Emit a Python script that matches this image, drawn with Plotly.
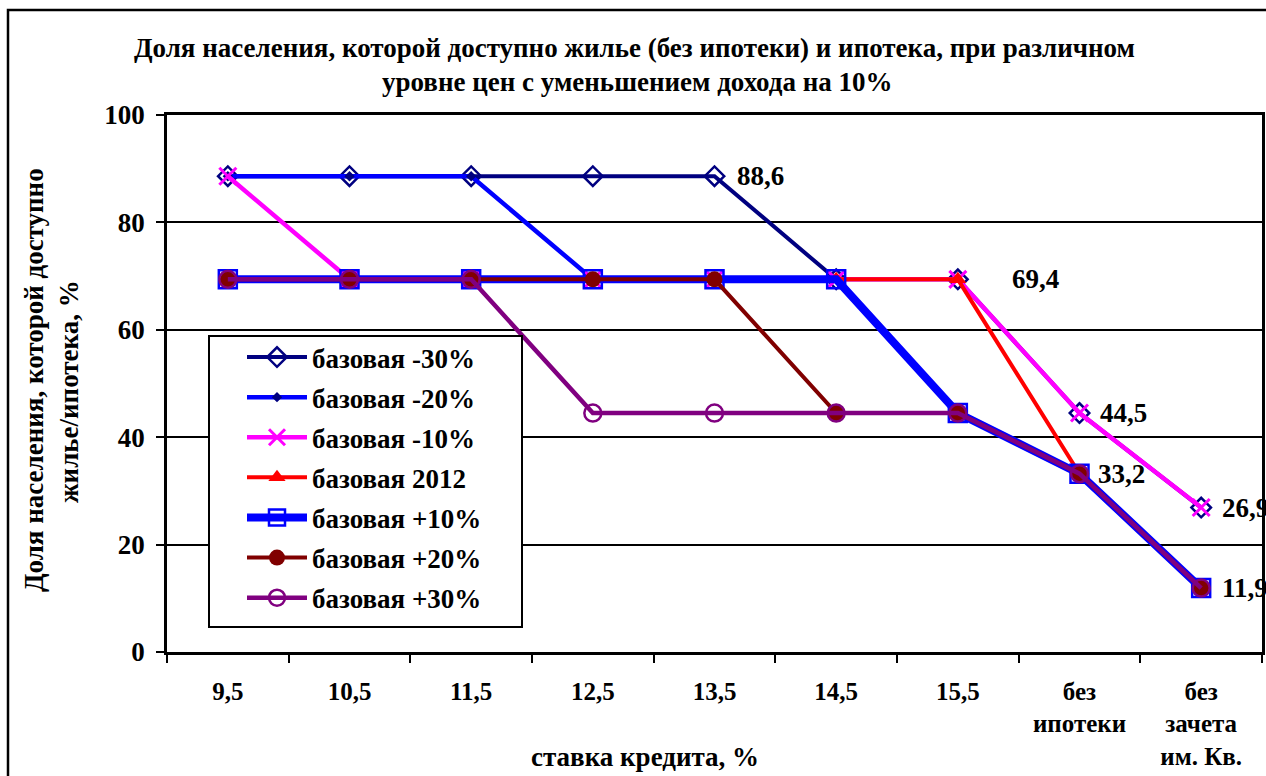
import plotly.graph_objects as go

# Categories: credit rate, plus two non-mortgage scenarios
categories = ["9,5", "10,5", "11,5", "12,5", "13,5", "14,5", "15,5",
              "без<br>ипотеки", "без<br>зачета<br>им. Кв."]

# Share of population (%) for each price level scenario
base_minus30 = [88.6, 88.6, 88.6, 88.6, 88.6, 69.4, 69.4, 44.5, 26.9]
base_minus20 = [88.6, 88.6, 88.6, 69.4, 69.4, 69.4, 44.5, 33.2, 11.9]
base_minus10 = [88.6, 69.4, 69.4, 69.4, 69.4, 69.4, 69.4, 44.5, 26.9]
base_2012 = [69.4, 69.4, 69.4, 69.4, 69.4, 69.4, 69.4, 33.2, 11.9]
base_plus10 = [69.4, 69.4, 69.4, 69.4, 69.4, 69.4, 44.5, 33.2, 11.9]
base_plus20 = [69.4, 69.4, 69.4, 69.4, 69.4, 44.5, 44.5, 33.2, 11.9]
base_plus30 = [69.4, 69.4, 69.4, 44.5, 44.5, 44.5, 44.5, 33.2, 11.9]

FONT = "Liberation Serif, Times New Roman, serif"
FS = 27

series = [
    ("базовая -30%", base_minus30, "#000080", 4,
     dict(symbol="diamond-open", size=15, color="#000080", line=dict(width=2.5, color="#000080"))),
    ("базовая -20%", base_minus20, "#0000FF", 4.5,
     dict(symbol="diamond", size=8, color="#000080", line=dict(width=0))),
    ("базовая -10%", base_minus10, "#FF00FF", 4.5,
     dict(symbol="x-thin-open", size=17, color="#FF00FF", line=dict(width=3, color="#FF00FF"))),
    ("базовая 2012", base_2012, "#FF0000", 4,
     dict(symbol="triangle-up", size=15, color="#FF0000", line=dict(width=0))),
    ("базовая +10%", base_plus10, "#0000FF", 8,
     dict(symbol="square-open", size=18, color="#0000FF", line=dict(width=2.5, color="#0000FF"))),
    ("базовая +20%", base_plus20, "#800000", 4,
     dict(symbol="circle", size=16, color="#800000", line=dict(width=0))),
    ("базовая +30%", base_plus30, "#800080", 4.5,
     dict(symbol="circle-open", size=17, color="#800080", line=dict(width=2.5, color="#800080"))),
]

fig = go.Figure()
for i, (name, vals, color, width, marker) in enumerate(series):
    fig.add_trace(go.Scatter(
        x=categories, y=vals, name=f"<b>{name}</b>", mode="lines+markers",
        line=dict(color=color, width=width), marker=marker,
        legendgroup=f"g{i}", cliponaxis=False,
    ))

# Value labels: (series values, category index, horizontal offset in px)
value_labels = [
    (base_minus30, 4, 20),
    (base_minus30, 6, 52),
    (base_minus30, 7, 18),
    (base_minus20, 7, 16),
    (base_minus30, 8, 19),
    (base_minus20, 8, 19),
]
for vals, idx, dx in value_labels:
    fig.add_annotation(
        x=categories[idx], y=vals[idx], xref="x", yref="y",
        text="<b>" + f"{vals[idx]:.1f}".replace(".", ",") + "</b>", showarrow=False,
        xanchor="left", yanchor="middle", xshift=dx,
        font=dict(family=FONT, size=FS, color="black"),
    )


def px_x(px):
    return (px - 167) / 1095


def px_y(py):
    return (652 - py) / 537


# Title lines
fig.add_annotation(x=px_x(634), y=px_y(48), xref="paper", yref="paper",
                   text="<b>Доля населения, которой доступно жилье (без ипотеки) и ипотека, при различном</b>",
                   showarrow=False, xanchor="center", yanchor="middle",
                   font=dict(family=FONT, size=FS, color="black"))
fig.add_annotation(x=px_x(637), y=px_y(82), xref="paper", yref="paper",
                   text="<b>уровне цен с уменьшением дохода на 10%</b>",
                   showarrow=False, xanchor="center", yanchor="middle",
                   font=dict(family=FONT, size=FS, color="black"))

# Y axis title (two rotated lines)
fig.add_annotation(x=px_x(34), y=px_y(380), xref="paper", yref="paper",
                   text="<b>Доля населения, которой доступно</b>", textangle=-90,
                   showarrow=False, xanchor="center", yanchor="middle",
                   font=dict(family=FONT, size=FS, color="black"))
fig.add_annotation(x=px_x(69), y=px_y(392), xref="paper", yref="paper",
                   text="<b>жилье/ипотека, %</b>", textangle=-90,
                   showarrow=False, xanchor="center", yanchor="middle",
                   font=dict(family=FONT, size=FS, color="black"))

# X axis title
fig.add_annotation(x=px_x(645), y=px_y(757), xref="paper", yref="paper",
                   text="<b>ставка кредита, %</b>",
                   showarrow=False, xanchor="center", yanchor="middle",
                   font=dict(family=FONT, size=FS, color="black"))

# Outer chart frame
fig.add_shape(type="rect", xref="paper", yref="paper",
              x0=px_x(8), x1=px_x(1275), y0=px_y(790), y1=px_y(10),
              line=dict(color="black", width=2.5), fillcolor="rgba(0,0,0,0)", layer="below")

# Legend box
fig.add_shape(type="rect", xref="paper", yref="paper",
              x0=px_x(209), x1=px_x(522), y0=px_y(627), y1=px_y(336),
              line=dict(color="black", width=2), fillcolor="white", layer="above")

fig.update_layout(
    width=1266, height=776,
    margin=dict(l=167, r=4, t=115, b=124, autoexpand=False),
    paper_bgcolor="white", plot_bgcolor="white",
    font=dict(family=FONT, size=FS, color="black"),
    showlegend=True,
    legend=dict(
        x=px_x(242), y=px_y(333), xanchor="left", yanchor="top",
        bgcolor="rgba(0,0,0,0)", borderwidth=0,
        font=dict(family=FONT, size=FS, color="black"),
        itemwidth=60, tracegroupgap=2, traceorder="grouped",
    ),
    xaxis=dict(
        type="category", tickson="boundaries", ticks="outside", ticklen=8, tickwidth=2,
        tickcolor="black", showline=True, linecolor="black", linewidth=2.5, mirror=True,
        showgrid=False, tickfont=dict(family=FONT, size=25, color="black"),
        ticklabelstandoff=15, range=[-0.5, 8.5], automargin=False,
        tickprefix="<b>", ticksuffix="</b>",
    ),
    yaxis=dict(
        range=[0, 100], dtick=20, ticks="outside", ticklen=8, tickwidth=2, tickcolor="black",
        showline=True, linecolor="black", linewidth=2.5, mirror=True,
        showgrid=True, gridcolor="black", gridwidth=2, zeroline=False,
        tickfont=dict(family=FONT, size=FS, color="black"), ticklabelstandoff=6,
        automargin=False, tickprefix="<b>", ticksuffix="</b>",
    ),
)

fig.write_html("out.html")
